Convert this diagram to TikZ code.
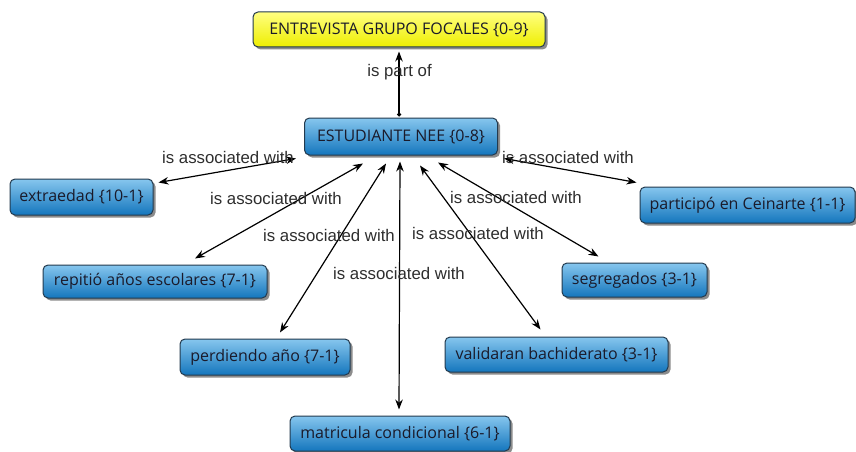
\documentclass[tikz,border=0pt]{standalone}
\usepackage{fontspec}
\setmainfont{Open Sans}
\newfontfamily\labfont{Liberation Sans}
\usetikzlibrary{shadows,arrows.meta}
\definecolor{cblueT}{HTML}{86C6EE}
\definecolor{cblueB}{HTML}{1476BD}
\definecolor{cborder}{HTML}{233A4E}
\definecolor{cyelT}{HTML}{FFFF80}
\definecolor{cyelB}{HTML}{EEEE00}
\definecolor{ctext}{HTML}{1A1A2A}
\definecolor{clab}{HTML}{2E2E2E}
\tikzset{
  concept/.style={draw=cborder, line width=1pt, rounded corners=5pt,
    top color=cblueT, bottom color=cblueB, text=ctext,
    font=\fontsize{16}{18}\selectfont, inner sep=0pt,
    drop shadow={shadow xshift=2.5pt, shadow yshift=-2.5pt, fill=black, opacity=0.45}},
  topconcept/.style={concept, top color=cyelT, bottom color=cyelB},
  linklab/.style={font=\labfont\fontsize{16.8}{18}\selectfont, text=clab, inner sep=0pt},
  assoc/.style={line width=1.2pt, {Stealth[length=10pt,width=7.5pt]}-{Stealth[length=10pt,width=7.5pt]}},
  partof/.style={line width=1.2pt, {Circle[length=4pt]}-{Stealth[length=10pt,width=7.5pt]}}
}
\begin{document}
\begin{tikzpicture}[x=1pt,y=-1pt]
\useasboundingbox[fill=white] (0,0) rectangle (856,452);
% concepts
\node[topconcept, minimum width=292pt, minimum height=35pt] (top) at (399,29.5) {ENTREVISTA GRUPO FOCALES \{0-9\}};
\node[concept, minimum width=193pt, minimum height=37pt] (est) at (401,136.5) {ESTUDIANTE NEE \{0-8\}};
\node[concept, minimum width=143pt, minimum height=36pt] (ext) at (81.5,197) {extraedad \{10-1\}};
\node[concept, minimum width=224pt, minimum height=33pt] (rep) at (155,281.5) {repitió años escolares \{7-1\}};
\node[concept, minimum width=170pt, minimum height=36pt] (perd) at (265,357) {perdiendo año \{7-1\}};
\node[concept, minimum width=220pt, minimum height=35pt] (mat) at (400,433.5) {matricula condicional \{6-1\}};
\node[concept, minimum width=223pt, minimum height=35pt] (val) at (556.5,354.5) {validaran bachiderato \{3-1\}};
\node[concept, minimum width=145pt, minimum height=34pt] (seg) at (634.5,280) {segregados \{3-1\}};
\node[concept, minimum width=215pt, minimum height=36pt] (cein) at (747.5,205) {participó en Ceinarte \{1-1\}};
% connectors
\draw[partof] ([shift={(-2,-1)}]est.north) -- ([shift={(0,4)}]top.south);
\draw[assoc] ([shift={(-8,3)}]est.south west) -- ([shift={(5,4)}]ext.north east);
\draw[assoc] ([shift={(-38,8)}]est.south) -- ([shift={(40,-6)}]rep.north);
\draw[assoc] ([shift={(-15,8)}]est.south) -- ([shift={(15,-6)}]perd.north);
\draw[assoc] ([shift={(-1,6)}]est.south) -- ([shift={(-1,-6)}]mat.north);
\draw[assoc] ([shift={(19,10)}]est.south) -- ([shift={(-16,-7)}]val.north);
\draw[assoc] ([shift={(37,7)}]est.south) -- ([shift={(-36,-6)}]seg.north);
\draw[assoc] ([shift={(6,3)}]est.south east) -- ([shift={(-3,-4)}]cein.north west);
% link labels
\node[linklab] (l0) at (399.5,72) {is part of};
\node[linklab] (l1) at (228,157) {is associated with};
\node[linklab] (l2) at (276,198) {is associated with};
\node[linklab] (l3) at (329,235) {is associated with};
\node[linklab] (l4) at (399,273) {is associated with};
\node[linklab] (l5) at (478,233) {is associated with};
\node[linklab] (l6) at (516,197) {is associated with};
\node[linklab] (l7) at (568,157) {is associated with};
\end{tikzpicture}
\end{document}
